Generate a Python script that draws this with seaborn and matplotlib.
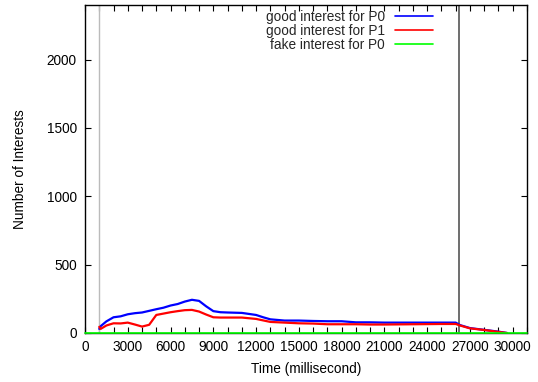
import matplotlib
matplotlib.use("Agg")
import matplotlib.pyplot as plt
import seaborn as sns
import pandas as pd
from matplotlib.ticker import MultipleLocator

# ---- data ----
time_ms = [1000, 1100, 1500, 2000, 2500, 3000, 3500, 4000, 4500, 5000, 5500,
           6000, 6500, 7000, 7500, 8000, 8500, 9000, 9500, 10000, 11000,
           12000, 12500, 13000, 14000, 15000, 16000, 17000, 18000, 19000,
           20000, 21000, 22000, 23000, 24000, 25000, 26000, 26300, 27000,
           28000, 29000, 29600]
good_p0 = [30, 50, 85, 115, 122, 137, 145, 150, 162, 174, 185,
           201, 212, 230, 243, 235, 195, 160, 152, 150, 147,
           132, 115, 100, 91, 91, 88, 86, 86, 78,
           78, 76, 76, 76, 76, 76, 76, 58, 36,
           23, 10, 0]
good_p1 = [45, 30, 55, 71, 70, 76, 62, 47, 60, 132, 142,
           152, 160, 167, 169, 157, 135, 115, 113, 113, 113,
           103, 92, 81, 76, 71, 69, 64, 64, 64,
           62, 62, 63, 64, 65, 66, 66, 55, 34,
           22, 8, 0]
fake_time = [0, 31000]
fake_p0 = [0, 0]

series_labels = ["good interest for P0", "good interest for P1", "fake interest for P0"]
series_colors = ["#0000ff", "#ff0000", "#00ff00"]
marker_lines = [1000, 26200]

x_ticks = list(range(0, 30001, 3000))
y_ticks = list(range(0, 2001, 500))

sns.set_theme(style="white")
plt.rcParams["font.family"] = ["Liberation Sans", "DejaVu Sans"]

fig = plt.figure(figsize=(5.38, 3.82), dpi=100)
W, H = 538, 382
ax = fig.add_axes([85 / W, 1 - 333 / H, (527 - 85) / W, (333 - 5) / H])

df0 = pd.DataFrame({"t": time_ms, "v": good_p0})
df1 = pd.DataFrame({"t": time_ms, "v": good_p1})
df2 = pd.DataFrame({"t": fake_time, "v": fake_p0})

ax.axvline(marker_lines[0], color="#bbbbbb", lw=1.0, zorder=1)
ax.axvline(marker_lines[1], color="#555555", lw=1.2, zorder=1)

sns.lineplot(data=df0, x="t", y="v", ax=ax, color=series_colors[0], lw=1.6,
             label=series_labels[0], zorder=3)
sns.lineplot(data=df1, x="t", y="v", ax=ax, color=series_colors[1], lw=1.6,
             label=series_labels[1], zorder=4)
sns.lineplot(data=df2, x="t", y="v", ax=ax, color=series_colors[2], lw=1.2,
             label=series_labels[2], zorder=5, clip_on=False)

ax.set_xlim(0, 31000)
ax.set_ylim(0, 2400)
ax.set_xticks(x_ticks)
ax.set_yticks(y_ticks)
ax.xaxis.set_minor_locator(MultipleLocator(1000))
ax.tick_params(axis="both", which="both", direction="in", top=True, right=True,
               bottom=True, left=True, length=4, width=0.8, color="black",
               labelsize=9.8, labelcolor="black")
ax.tick_params(axis="x", which="major", pad=5)
ax.tick_params(axis="y", which="major", pad=6)
for s in ax.spines.values():
    s.set_color("black")
    s.set_linewidth(1.0)
ax.grid(False)

ax.set_xlabel("Time (millisecond)", fontsize=9.8, color="black", labelpad=6)
ax.set_ylabel("Number of Interests", fontsize=9.8, color="black", labelpad=14)

leg = ax.legend(loc="upper right", bbox_to_anchor=(433 / W, 1 - 10 / H),
                bbox_transform=fig.transFigure, frameon=False, markerfirst=False,
                fontsize=9.8, handlelength=2.8, handletextpad=0.75,
                labelspacing=0.0, borderpad=0, borderaxespad=0)
for line in leg.get_lines():
    line.set_linewidth(1.2)

fig.savefig("out.png", dpi=100)
